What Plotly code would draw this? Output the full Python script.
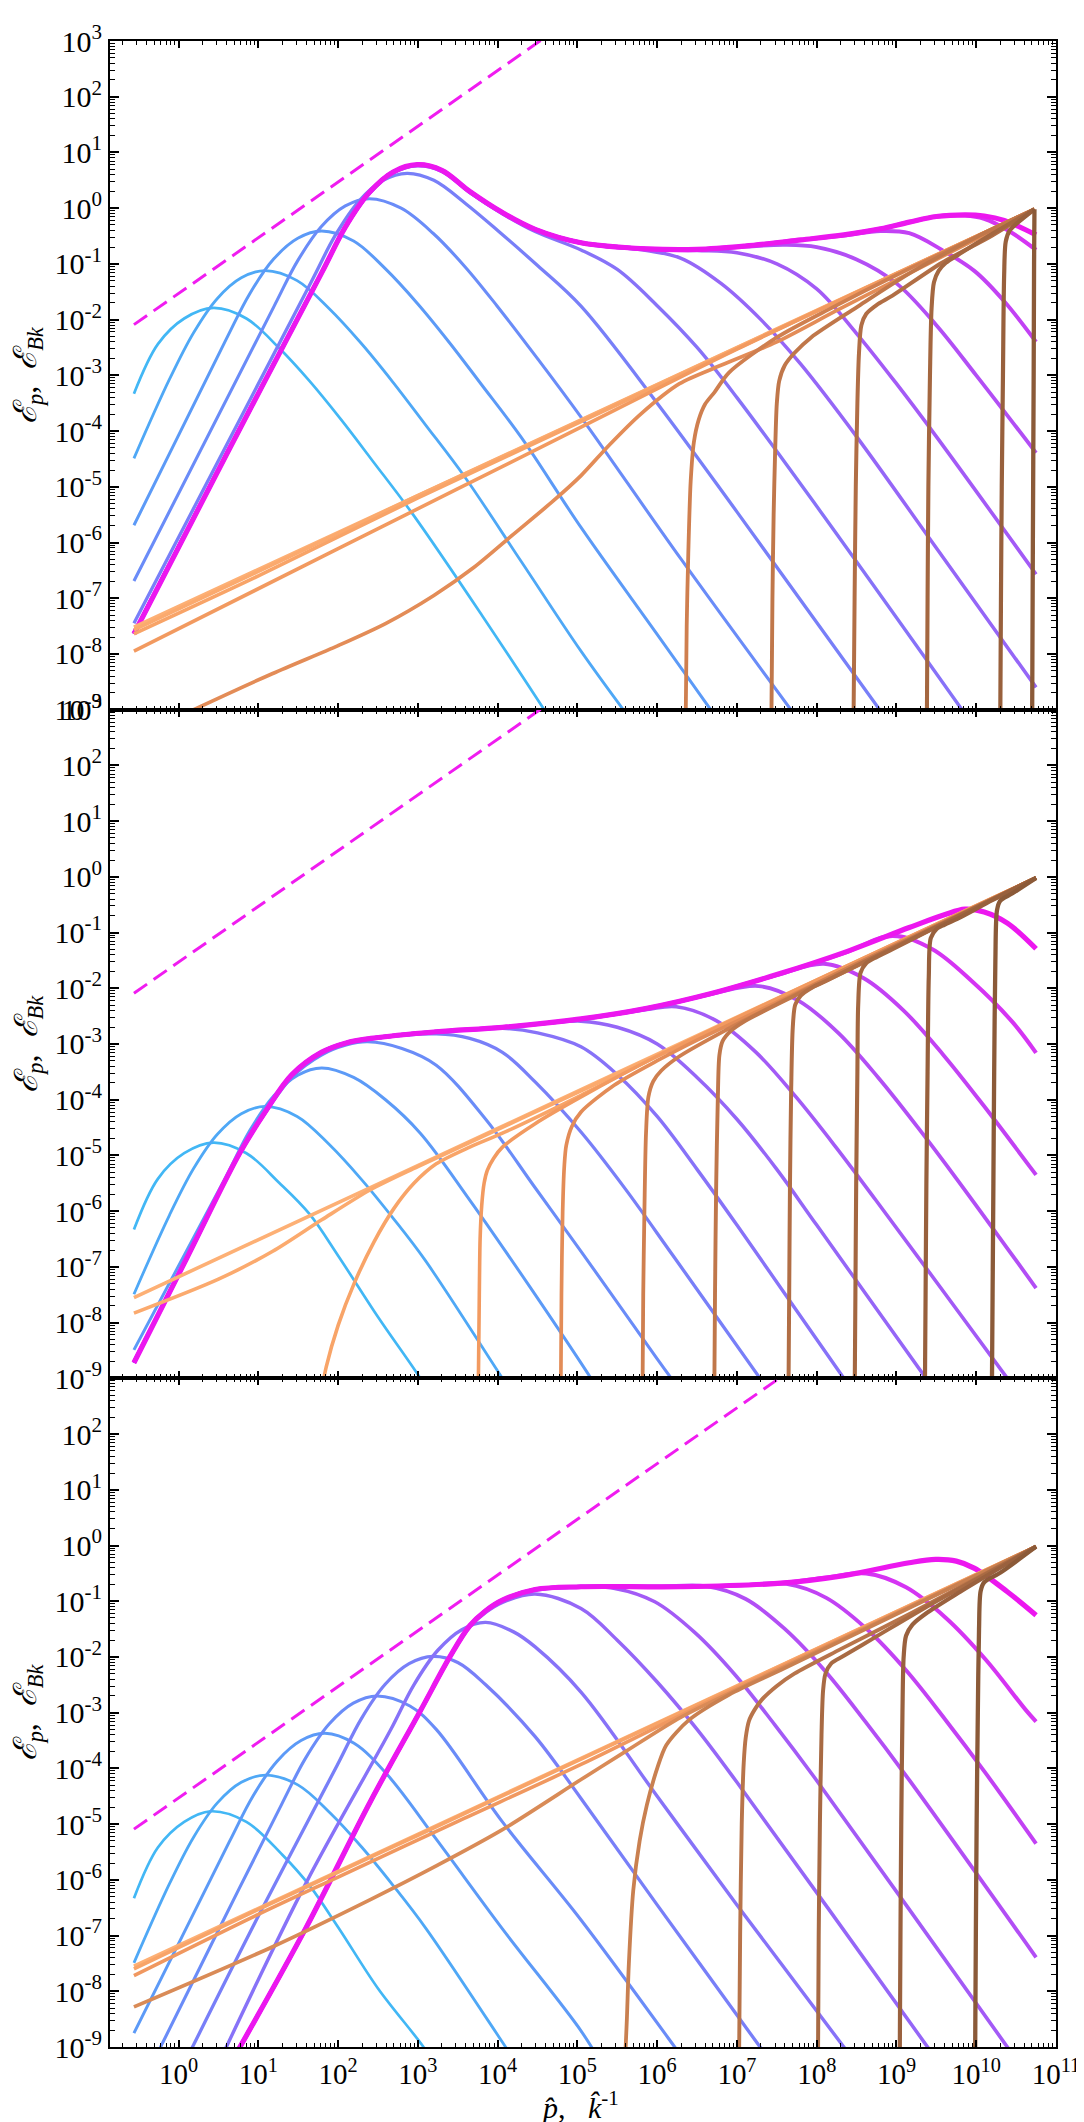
import numpy as np
import plotly.graph_objects as go
from plotly.subplots import make_subplots

# ------------------------------------------------------------------
# Data.
# Every curve is a list of (log10 x, log10 y) pairs,
# x = p-hat (or k-hat^-1), y = E_p (or E_Bk).
# ------------------------------------------------------------------

# ---------------- top panel ----------------
top_dash = [(-0.56, -2.09), (4.6, 3.07)]

top_P1 = [(-0.56, -3.33), (-0.26, -2.44), (0.07, -1.98), (0.436, -1.79), (0.85, -1.98), (1.26, -2.51),
          (1.64, -3.1), (2.04, -3.8), (2.44, -4.55), (2.94, -5.5), (3.8, -7.3), (4.72, -9.3)]
top_P2 = [(-0.56, -4.49), (-0.114, -3.07), (0.186, -2.24), (0.486, -1.62), (0.786, -1.25), (1.086, -1.12),
          (1.486, -1.30), (1.886, -1.80), (2.286, -2.42), (2.686, -3.12), (3.086, -3.87), (3.586, -4.82),
          (4.3, -6.35), (5.045, -7.95), (5.73, -9.3)]
top_P3 = [(-0.56, -5.69), (0.594, -2.36), (0.894, -1.53), (1.194, -0.91), (1.494, -0.54), (1.794, -0.41),
          (2.194, -0.59), (2.594, -1.09), (2.994, -1.71), (3.394, -2.41), (3.794, -3.16), (4.294, -4.11),
          (5.045, -5.73), (6.0, -7.65), (6.82, -9.3)]
top_P4 = [(-0.56, -6.69), (1.19, -1.78), (1.49, -0.95), (1.79, -0.33), (2.09, 0.04), (2.39, 0.17),
          (2.79, 0.0), (3.19, -0.45), (3.59, -1.05), (3.99, -1.75), (4.5, -2.7), (5.045, -3.75),
          (6.3, -6.3), (7.83, -9.3)]
top_P5 = [(-0.56, -7.45), (1.664, -1.32), (1.964, -0.49), (2.264, 0.13), (2.564, 0.5), (2.864, 0.626),
          (3.2, 0.5), (3.6, 0.08), (4.0, -0.4), (4.5, -1.03), (5.045, -1.76), (6.0, -3.5), (7.0, -5.45),
          (8.94, -9.3)]
top_P6 = [(-0.56, -7.62), (0.6, -4.41), (1.79, -1.17), (2.09, -0.35), (2.39, 0.26), (2.69, 0.63),
          (2.99, 0.76), (3.3, 0.66), (3.65, 0.28), (4.06, -0.1), (4.47, -0.42), (5.045, -0.75), (5.5, -1.1),
          (6.0, -1.75), (6.5, -2.5), (7.0, -3.4), (8.0, -5.35), (9.97, -9.3)]
top_P7 = [(-0.56, -7.63), (0.6, -4.42), (1.79, -1.17), (2.09, -0.34), (2.39, 0.27), (2.69, 0.64),
          (2.99, 0.77), (3.3, 0.67), (3.65, 0.29), (4.06, -0.09), (4.47, -0.39), (5.045, -0.63),
          (5.87, -0.76), (6.3, -0.9), (6.8, -1.35), (7.3, -2.0), (7.8, -2.8), (8.5, -4.1), (9.5, -6.1),
          (10.75, -8.6)]
top_P8 = [(-0.56, -7.63), (0.6, -4.42), (1.79, -1.17), (2.09, -0.34), (2.39, 0.28), (2.69, 0.65),
          (2.99, 0.78), (3.3, 0.68), (3.65, 0.3), (4.06, -0.08), (4.47, -0.38), (5.045, -0.62),
          (5.87, -0.74), (6.5, -0.76), (7.0, -0.8), (7.5, -1.0), (8.0, -1.45), (8.5, -2.25), (9.0, -3.15),
          (9.5, -4.1), (10.75, -6.57)]
top_P9 = [(-0.56, -7.63), (0.6, -4.42), (1.79, -1.17), (2.09, -0.34), (2.39, 0.28), (2.69, 0.65),
          (2.99, 0.78), (3.3, 0.68), (3.65, 0.3), (4.06, -0.08), (4.47, -0.38), (5.045, -0.62),
          (5.87, -0.73), (6.5, -0.74), (7.1, -0.69), (7.6, -0.66), (8.0, -0.7), (8.5, -0.92), (9.0, -1.35),
          (9.5, -2.1), (10.0, -3.0), (10.75, -4.39)]
top_P10 = [(-0.56, -7.64), (0.6, -4.42), (1.79, -1.17), (2.09, -0.34), (2.39, 0.28), (2.69, 0.65),
           (2.99, 0.78), (3.3, 0.68), (3.65, 0.3), (4.06, -0.08), (4.47, -0.38), (5.045, -0.62),
           (5.87, -0.73), (6.5, -0.74), (7.1, -0.68), (7.8, -0.57), (8.34, -0.49), (8.8, -0.41),
           (9.16, -0.45), (9.57, -0.75), (9.98, -1.13), (10.35, -1.67), (10.75, -2.40)]
top_P11 = [(-0.56, -7.64), (0.6, -4.42), (1.79, -1.17), (2.09, -0.34), (2.39, 0.28), (2.69, 0.65),
           (2.99, 0.78), (3.3, 0.68), (3.65, 0.3), (4.06, -0.08), (4.47, -0.38), (5.045, -0.62),
           (5.87, -0.73), (6.5, -0.74), (7.1, -0.68), (7.8, -0.57), (8.34, -0.48), (8.8, -0.37),
           (9.16, -0.25), (9.5, -0.15), (9.86, -0.13), (10.1, -0.19), (10.4, -0.4), (10.75, -0.75)]
top_P12 = [(-0.56, -7.64), (0.6, -4.42), (1.79, -1.17), (2.09, -0.34), (2.39, 0.28), (2.69, 0.65),
           (2.99, 0.78), (3.3, 0.68), (3.65, 0.3), (4.06, -0.08), (4.47, -0.38), (5.045, -0.62),
           (5.87, -0.73), (6.5, -0.74), (7.1, -0.68), (7.8, -0.57), (8.34, -0.48), (8.8, -0.37),
           (9.16, -0.25), (9.5, -0.15), (9.86, -0.12), (10.1, -0.14), (10.35, -0.22), (10.75, -0.48)]

top_B1 = [(-0.56, -7.52), (5.045, -3.8), (10.73, -0.02)]
top_B2 = [(-0.56, -7.57), (1.0, -6.52), (3.0, -5.16), (5.045, -3.81), (10.73, -0.02)]
top_B3 = [(-0.56, -7.64), (1.0, -6.6), (3.0, -5.2), (5.045, -3.83), (10.73, -0.02)]
top_B4 = [(-0.56, -7.95), (2.0, -6.11), (5.045, -3.93), (7.0, -2.53), (10.73, -0.02)]
top_B5 = [(-0.1, -9.2), (0.19, -9.0), (1.18, -8.35), (2.0, -7.85), (2.6, -7.45), (3.2, -6.95), (3.7, -6.45),
          (4.2, -5.85), (4.7, -5.25), (5.045, -4.8), (5.4, -4.25), (5.79, -3.7), (6.28, -3.15),
          (6.8, -2.82), (7.5, -2.4), (8.3, -1.8), (10.73, -0.02)]
top_B6 = [(6.355, -9.5), (6.37, -7.5), (6.39, -6.2), (6.42, -4.9), (6.46, -4.2), (6.52, -3.8), (6.6, -3.52),
          (6.72, -3.3), (6.9, -2.95), (7.5, -2.32), (8.2, -1.78), (9.0, -1.2), (10.73, -0.02)]
top_B7 = [(7.43, -9.5), (7.445, -7.0), (7.46, -5.5), (7.48, -4.3), (7.5, -3.5), (7.53, -3.1), (7.6, -2.82),
          (7.72, -2.6), (7.93, -2.32), (8.5, -1.78), (9.2, -1.14), (10.0, -0.52), (10.73, -0.02)]
top_B8 = [(8.46, -9.5), (8.475, -7.0), (8.49, -5.0), (8.51, -3.5), (8.53, -2.6), (8.56, -2.1), (8.62, -1.9),
          (8.75, -1.74), (8.95, -1.57), (9.57, -0.98), (10.19, -0.5), (10.73, -0.02)]
top_B9 = [(9.38, -9.5), (9.39, -7.0), (9.4, -5.0), (9.42, -3.0), (9.44, -1.8), (9.47, -1.33), (9.53, -1.12),
          (9.62, -0.98), (9.78, -0.83), (10.2, -0.46), (10.73, -0.02)]
top_B10 = [(10.3, -9.5), (10.31, -7.0), (10.32, -5.0), (10.335, -3.0), (10.35, -1.2), (10.37, -0.6),
           (10.42, -0.4), (10.52, -0.26), (10.73, -0.02)]
top_B11 = [(10.7, -9.5), (10.71, -6.0), (10.72, -3.0), (10.725, -1.0), (10.73, -0.02)]

# ---------------- middle panel ----------------
mid_dash = [(-0.56, -2.09), (4.6, 3.07)]

mid_P1 = [(-0.56, -6.33), (-0.26, -5.42), (0.07, -4.96), (0.436, -4.77), (0.85, -4.96), (1.26, -5.49),
          (1.64, -6.05), (2.0, -6.8), (2.5, -7.9), (3.03, -9.0), (3.15, -9.3)]
mid_P2 = [(-0.56, -7.49), (-0.114, -6.07), (0.186, -5.24), (0.486, -4.62), (0.786, -4.25), (1.086, -4.12),
          (1.486, -4.30), (1.886, -4.80), (2.286, -5.42), (2.686, -6.12), (3.086, -6.87), (4.06, -9.0),
          (4.2, -9.3)]
mid_P3 = [(-0.56, -8.49), (0.594, -5.38), (0.894, -4.55), (1.194, -3.93), (1.494, -3.56), (1.794, -3.43),
          (2.194, -3.6), (2.594, -4.0), (3.03, -4.6), (3.65, -5.8), (4.4, -7.35), (5.17, -9.0), (5.3, -9.3)]
mid_P4 = [(-0.56, -8.7), (0.1, -6.84), (0.765, -4.97), (1.095, -4.22), (1.42, -3.6), (1.79, -3.2),
          (2.1, -3.02), (2.37, -2.96), (2.8, -3.08), (3.23, -3.38), (3.85, -4.35), (4.47, -5.58),
          (5.045, -6.72), (6.0, -8.65), (6.33, -9.3)]
mid_P5 = [(-0.56, -8.71), (0.1, -6.85), (0.765, -4.96), (1.095, -4.21), (1.42, -3.56), (1.79, -3.16),
          (2.1, -2.99), (2.41, -2.91), (3.23, -2.82), (3.65, -2.9), (4.06, -3.15), (4.47, -3.68),
          (5.045, -4.58), (5.6, -5.6), (6.2, -6.8), (7.29, -9.0), (7.44, -9.3)]
mid_P6 = [(-0.56, -8.71), (0.1, -6.85), (0.765, -4.96), (1.095, -4.2), (1.42, -3.55), (1.79, -3.15),
          (2.1, -2.98), (2.41, -2.9), (3.23, -2.79), (4.06, -2.72), (4.5, -2.8), (5.045, -3.05), (5.5, -3.55),
          (6.0, -4.3), (6.5, -5.25), (7.0, -6.25), (8.34, -9.0), (8.49, -9.3)]
mid_P7 = [(-0.56, -8.72), (0.1, -6.85), (0.765, -4.96), (1.095, -4.2), (1.42, -3.55), (1.79, -3.15),
          (2.1, -2.98), (2.41, -2.9), (3.23, -2.78), (4.06, -2.71), (5.045, -2.59), (5.5, -2.7), (6.0, -3.0),
          (6.5, -3.6), (7.0, -4.35), (7.5, -5.25), (8.0, -6.25), (9.37, -9.0), (9.52, -9.3)]
mid_P8 = [(-0.56, -8.72), (0.1, -6.85), (0.765, -4.96), (1.095, -4.2), (1.42, -3.55), (1.79, -3.15),
          (2.1, -2.98), (2.41, -2.9), (3.23, -2.78), (4.06, -2.70), (5.045, -2.56), (5.87, -2.38),
          (6.24, -2.33), (6.74, -2.58), (7.24, -3.15), (7.74, -3.95), (8.24, -4.85), (8.74, -5.8),
          (10.39, -9.0), (10.54, -9.3)]
mid_P9 = [(-0.56, -8.72), (0.1, -6.85), (0.765, -4.96), (1.095, -4.2), (1.42, -3.55), (1.79, -3.15),
          (2.1, -2.98), (2.41, -2.9), (3.23, -2.78), (4.06, -2.70), (5.045, -2.55), (5.87, -2.37),
          (6.69, -2.1), (7.27, -1.96), (7.77, -2.22), (8.27, -2.8), (8.77, -3.6), (9.27, -4.5),
          (9.77, -5.45), (10.75, -7.38)]
mid_P10 = [(-0.56, -8.72), (0.1, -6.85), (0.765, -4.96), (1.095, -4.2), (1.42, -3.55), (1.79, -3.15),
           (2.1, -2.98), (2.41, -2.9), (3.23, -2.78), (4.06, -2.70), (5.045, -2.55), (5.87, -2.36),
           (6.69, -2.09), (7.51, -1.76), (8.09, -1.56), (8.59, -1.82), (9.09, -2.4), (9.59, -3.2),
           (10.09, -4.1), (10.75, -5.35)]
mid_P11 = [(-0.56, -8.72), (0.1, -6.85), (0.765, -4.96), (1.095, -4.2), (1.42, -3.55), (1.79, -3.15),
           (2.1, -2.98), (2.41, -2.9), (3.23, -2.78), (4.06, -2.70), (5.045, -2.55), (5.87, -2.36),
           (6.69, -2.09), (7.51, -1.75), (8.34, -1.37), (8.95, -1.06), (9.45, -1.3), (9.95, -1.88),
           (10.45, -2.6), (10.75, -3.16)]
mid_P12 = [(-0.56, -8.72), (0.1, -6.85), (0.765, -4.96), (1.095, -4.2), (1.42, -3.55), (1.79, -3.15),
           (2.1, -2.98), (2.41, -2.9), (3.23, -2.78), (4.06, -2.70), (5.045, -2.55), (5.87, -2.36),
           (6.69, -2.09), (7.51, -1.75), (8.34, -1.36), (9.16, -0.91), (9.6, -0.68), (9.86, -0.58),
           (10.1, -0.63), (10.39, -0.83), (10.75, -1.29)]

mid_B1 = [(-0.56, -7.55), (5.045, -3.82), (10.75, -0.02)]
mid_B2 = [(-0.56, -7.83), (0.5, -7.22), (1.18, -6.72), (1.8, -6.15), (2.4, -5.62), (3.0, -5.2), (5.045, -3.84),
          (10.75, -0.02)]
mid_B3 = [(1.77, -9.4), (1.85, -8.8), (2.0, -8.05), (2.2, -7.3), (2.45, -6.55), (2.7, -5.95), (2.95, -5.5),
          (3.23, -5.15), (3.65, -4.85), (4.06, -4.6), (5.045, -3.92), (6.0, -3.22), (7.0, -2.55),
          (10.75, -0.02)]
mid_B4 = [(3.755, -9.5), (3.77, -7.5), (3.78, -6.5), (3.8, -5.9), (3.83, -5.5), (3.87, -5.27), (3.95, -5.05),
          (4.06, -4.85), (4.47, -4.43), (5.045, -3.95), (6.0, -3.22), (10.75, -0.02)]
mid_B5 = [(4.79, -9.5), (4.8, -7.5), (4.815, -6.0), (4.835, -5.2), (4.86, -4.82), (4.93, -4.48),
          (5.045, -4.22), (5.46, -3.74), (6.0, -3.3), (6.5, -2.93), (7.5, -2.25), (10.75, -0.02)]
mid_B6 = [(5.815, -9.5), (5.825, -7.5), (5.84, -6.0), (5.86, -4.6), (5.89, -3.95), (5.95, -3.67),
          (6.05, -3.48), (6.28, -3.22), (6.9, -2.72), (7.5, -2.28), (8.5, -1.56), (10.75, -0.02)]
mid_B7 = [(6.715, -9.5), (6.725, -7.5), (6.74, -5.5), (6.76, -4.0), (6.78, -3.2), (6.82, -2.95),
          (6.92, -2.77), (7.1, -2.59), (7.7, -2.15), (8.5, -1.6), (10.75, -0.02)]
mid_B8 = [(7.645, -9.5), (7.655, -7.5), (7.665, -5.5), (7.68, -3.8), (7.7, -2.7), (7.73, -2.3), (7.8, -2.13),
          (7.95, -1.98), (8.13, -1.86), (8.8, -1.38), (10.75, -0.02)]
mid_B9 = [(8.475, -9.5), (8.485, -7.5), (8.495, -5.5), (8.51, -3.5), (8.52, -2.3), (8.55, -1.72),
          (8.62, -1.55), (8.75, -1.44), (8.95, -1.3), (9.5, -0.9), (10.75, -0.02)]
mid_B10 = [(9.355, -9.5), (9.365, -7.5), (9.375, -5.5), (9.39, -3.5), (9.405, -1.8), (9.43, -1.1),
           (9.5, -0.94), (9.6, -0.86), (9.78, -0.74), (10.2, -0.42), (10.75, -0.02)]
mid_B11 = [(10.195, -9.5), (10.205, -7.5), (10.215, -5.5), (10.225, -3.5), (10.24, -1.5), (10.26, -0.6),
           (10.3, -0.43), (10.45, -0.3), (10.75, -0.02)]

# ---------------- bottom panel ----------------
bot_dash = [(-0.56, -5.09), (7.6, 3.07)]

bot_P1 = [(-0.56, -6.33), (-0.26, -5.42), (0.07, -4.96), (0.4, -4.77), (0.85, -4.96), (1.3, -5.55),
          (1.64, -6.1), (2.0, -6.85), (2.5, -7.95), (3.07, -9.0), (3.2, -9.3)]
bot_P2 = [(-0.56, -7.49), (-0.114, -6.07), (0.186, -5.24), (0.486, -4.62), (0.786, -4.25), (1.095, -4.12),
          (1.5, -4.30), (1.9, -4.8), (2.3, -5.42), (2.7, -6.12), (3.1, -6.87), (4.1, -9.0), (4.24, -9.3)]
bot_P3 = [(-0.56, -8.75), (0.635, -5.32), (0.935, -4.49), (1.235, -3.87), (1.535, -3.5), (1.835, -3.37),
          (2.2, -3.55), (2.62, -4.12), (3.23, -5.27), (4.06, -6.88), (5.045, -8.71), (5.3, -9.3)]
bot_P4 = [(-0.33, -9.3), (0.5, -6.9), (1.29, -4.65), (1.59, -3.82), (1.89, -3.2), (2.19, -2.83),
          (2.49, -2.70), (2.9, -2.88), (3.23, -3.3), (4.06, -4.96), (5.045, -6.72), (6.22, -9.0),
          (6.37, -9.3)]
bot_P5 = [(0.07, -9.3), (1.0, -6.65), (1.99, -3.94), (2.29, -3.11), (2.59, -2.49), (2.89, -2.12),
          (3.19, -1.99), (3.5, -2.1), (3.85, -2.5), (4.47, -3.43), (5.045, -4.54), (6.0, -6.45),
          (7.29, -9.0), (7.44, -9.3)]
bot_P6 = [(0.5, -9.3), (1.6, -6.05), (2.65, -3.33), (2.95, -2.5), (3.25, -1.88), (3.55, -1.51),
          (3.85, -1.38), (4.2, -1.55), (4.47, -1.82), (5.045, -2.63), (6.0, -4.5), (7.0, -6.45),
          (8.34, -9.0), (8.49, -9.3)]
bot_P7 = [(0.69, -9.21), (1.59, -6.89), (2.41, -4.59), (3.03, -2.98), (3.4, -2.01), (3.65, -1.46),
          (3.85, -1.2), (4.06, -1.02), (4.47, -0.87), (5.045, -1.13), (5.5, -1.7), (6.0, -2.45),
          (6.5, -3.3), (7.0, -4.25), (9.39, -9.0), (9.54, -9.3)]
bot_P8 = [(0.69, -9.2), (1.59, -6.88), (2.41, -4.58), (3.03, -2.97), (3.4, -2.0), (3.65, -1.44),
          (3.85, -1.17), (4.06, -0.99), (4.47, -0.8), (5.045, -0.75), (5.47, -0.77), (5.97, -1.01),
          (6.47, -1.56), (6.97, -2.31), (7.47, -3.21), (7.97, -4.16), (10.39, -9.0), (10.54, -9.3)]
bot_P9 = [(0.69, -9.2), (1.59, -6.88), (2.41, -4.58), (3.03, -2.97), (3.4, -2.0), (3.65, -1.44),
          (3.85, -1.17), (4.06, -0.98), (4.47, -0.79), (5.045, -0.74), (6.0, -0.74), (6.61, -0.73),
          (7.11, -0.96), (7.61, -1.51), (8.11, -2.26), (8.61, -3.16), (9.11, -4.11), (10.75, -7.39)]
bot_P10 = [(0.69, -9.2), (1.59, -6.88), (2.41, -4.58), (3.03, -2.97), (3.4, -2.0), (3.65, -1.44),
           (3.85, -1.17), (4.06, -0.98), (4.47, -0.79), (5.045, -0.74), (6.28, -0.74), (7.0, -0.72),
           (7.62, -0.69), (8.12, -0.94), (8.62, -1.49), (9.12, -2.24), (9.62, -3.14), (10.12, -4.09),
           (10.75, -5.35)]
bot_P11 = [(0.69, -9.2), (1.59, -6.88), (2.41, -4.58), (3.03, -2.97), (3.4, -2.0), (3.65, -1.44),
           (3.85, -1.17), (4.06, -0.98), (4.47, -0.79), (5.045, -0.74), (6.28, -0.74), (7.51, -0.68),
           (8.1, -0.58), (8.62, -0.5), (9.12, -0.75), (9.62, -1.3), (10.12, -2.05), (10.62, -2.95),
           (10.75, -3.16)]
bot_P12 = [(0.69, -9.2), (1.59, -6.88), (2.41, -4.58), (3.03, -2.97), (3.4, -2.0), (3.65, -1.44),
           (3.85, -1.17), (4.06, -0.98), (4.47, -0.79), (5.045, -0.74), (6.28, -0.74), (7.51, -0.68),
           (8.34, -0.54), (9.16, -0.31), (9.49, -0.25), (9.75, -0.28), (9.98, -0.41), (10.39, -0.83),
           (10.75, -1.25)]

bot_B1 = [(-0.56, -7.55), (5.045, -3.82), (10.75, -0.02)]
bot_B2 = [(-0.56, -7.6), (1.0, -6.53), (3.0, -5.2), (10.75, -0.02)]
bot_B3 = [(-0.56, -7.72), (1.0, -6.62), (2.0, -5.95), (3.5, -4.95), (5.045, -3.93), (7.0, -2.55),
          (10.75, -0.02)]
bot_B4 = [(-0.56, -8.28), (1.18, -7.2), (2.41, -6.35), (3.23, -5.75), (4.06, -5.1), (5.045, -4.2),
          (5.6, -3.7), (6.3, -3.08), (7.2, -2.45), (10.75, -0.02)]
bot_B5 = [(5.59, -9.5), (5.62, -8.5), (5.645, -7.5), (5.7, -6.19), (5.78, -5.3), (5.87, -4.66), (6.0, -4.0),
          (6.115, -3.58), (6.4, -3.13), (6.9, -2.68), (7.6, -2.2), (10.75, -0.02)]
bot_B6 = [(7.025, -9.5), (7.04, -7.0), (7.06, -5.0), (7.085, -3.9), (7.11, -3.45), (7.15, -3.15),
          (7.22, -2.95), (7.31, -2.77), (7.5, -2.52), (7.72, -2.3), (8.3, -1.86), (9.2, -1.2), (10.75, -0.02)]
bot_B7 = [(8.015, -9.5), (8.025, -7.0), (8.04, -5.0), (8.06, -3.4), (8.08, -2.6), (8.11, -2.3),
          (8.18, -2.12), (8.34, -1.98), (8.74, -1.64), (9.5, -1.0), (10.75, -0.02)]
bot_B8 = [(9.04, -9.5), (9.05, -7.0), (9.06, -5.0), (9.075, -3.0), (9.09, -2.0), (9.12, -1.62), (9.2, -1.42),
          (9.37, -1.22), (9.8, -0.83), (10.3, -0.4), (10.75, -0.02)]
bot_B9 = [(9.985, -9.5), (9.995, -7.0), (10.005, -5.0), (10.02, -3.0), (10.035, -1.5), (10.055, -0.82),
          (10.1, -0.66), (10.31, -0.48), (10.75, -0.02)]

# ---------------- axis ticks ----------------
x_tick_exp = list(range(0, 12))
y_tick_exp_full = list(range(-9, 4))
y_tick_exp_bottom = list(range(-9, 3))

# ---------------- styles ----------------
part_colors = ["#42b7f5", "#4fa8f6", "#5c9af7", "#6a8cf8", "#787ff8", "#8772f8",
               "#9566f7", "#a35af6", "#b24ef5", "#c241f4", "#d534f3", "#ec17ef"]
part_widths = [2.7, 2.8, 3.0, 3.1, 3.3, 3.4, 3.5, 3.6, 3.8, 3.9, 4.1, 5.2]
mag_colors_11 = ["#fdb075", "#fbaa6e", "#f8a468", "#f29a60", "#e38c57", "#cf7f4f",
                 "#c0774a", "#b16e45", "#a46740", "#98603c", "#8b5a38"]
mag_widths_11 = [3.6, 3.6, 3.6, 3.6, 3.7, 3.8, 3.9, 4.0, 4.1, 4.2, 4.3]
mag_colors_9 = ["#fdb075", "#f8a468", "#f09860", "#d98b57", "#c98050", "#b8744a",
                "#a86a43", "#9a613e", "#8b5a38"]
mag_widths_9 = [3.6, 3.6, 3.6, 3.7, 3.8, 3.9, 4.0, 4.2, 4.3]
dash_color = "#f01cf0"
FONT = "Liberation Serif"

panels = [
    dict(part=[top_P1, top_P2, top_P3, top_P4, top_P5, top_P6, top_P7, top_P8, top_P9, top_P10, top_P11, top_P12],
         mag=[top_B1, top_B2, top_B3, top_B4, top_B5, top_B6, top_B7, top_B8, top_B9, top_B10, top_B11],
         mcol=mag_colors_11, mw=mag_widths_11, dash=top_dash, yt=y_tick_exp_full),
    dict(part=[mid_P1, mid_P2, mid_P3, mid_P4, mid_P5, mid_P6, mid_P7, mid_P8, mid_P9, mid_P10, mid_P11, mid_P12],
         mag=[mid_B1, mid_B2, mid_B3, mid_B4, mid_B5, mid_B6, mid_B7, mid_B8, mid_B9, mid_B10, mid_B11],
         mcol=mag_colors_11, mw=mag_widths_11, dash=mid_dash, yt=y_tick_exp_full),
    dict(part=[bot_P1, bot_P2, bot_P3, bot_P4, bot_P5, bot_P6, bot_P7, bot_P8, bot_P9, bot_P10, bot_P11, bot_P12],
         mag=[bot_B1, bot_B2, bot_B3, bot_B4, bot_B5, bot_B6, bot_B7, bot_B8, bot_B9],
         mcol=mag_colors_9, mw=mag_widths_9, dash=bot_dash, yt=y_tick_exp_bottom),
]


def xy(pts):
    a = np.array(pts, dtype=float)
    return 10.0 ** a[:, 0], 10.0 ** a[:, 1]


fig = make_subplots(rows=3, cols=1, shared_xaxes=True, vertical_spacing=0)

for r, pan in enumerate(panels, start=1):
    for i, pts in enumerate(pan["part"]):
        x, y = xy(pts)
        fig.add_trace(go.Scatter(x=x, y=y, mode="lines", hoverinfo="skip", showlegend=False,
                                 line=dict(color=part_colors[i], width=part_widths[i],
                                           shape="spline", smoothing=1.0)), row=r, col=1)
    for i, pts in enumerate(pan["mag"]):
        x, y = xy(pts)
        fig.add_trace(go.Scatter(x=x, y=y, mode="lines", hoverinfo="skip", showlegend=False,
                                 line=dict(color=pan["mcol"][i], width=pan["mw"][i],
                                           shape="spline", smoothing=0.8)), row=r, col=1)
    x, y = xy(pan["dash"])
    fig.add_trace(go.Scatter(x=x, y=y, mode="lines", hoverinfo="skip", showlegend=False,
                             line=dict(color=dash_color, width=3, dash="16px,8px")), row=r, col=1)

minor_x = [m * 10.0 ** e for e in range(-1, 11) for m in range(2, 10) if m * 10.0 ** e > 0.138]
minor_y = [m * 10.0 ** e for e in range(-9, 3) for m in range(2, 10)]

for r, pan in enumerate(panels, start=1):
    fig.update_yaxes(type="log", range=[-9, 3], tickmode="array",
                     tickvals=[10.0 ** e for e in pan["yt"]],
                     ticktext=[f"10<sup>{e}</sup>" for e in pan["yt"]],
                     ticks="inside", ticklen=9, tickwidth=1.5, tickcolor="black",
                     showline=True, linewidth=2, linecolor="black", mirror="ticks",
                     showgrid=False, zeroline=False, ticklabeloverflow="allow",
                     minor=dict(tickvals=minor_y, ticks="inside", ticklen=5, tickwidth=1.2,
                                tickcolor="black", showgrid=False),
                     tickfont=dict(family=FONT, size=30, color="black"), row=r, col=1)
    fig.update_xaxes(type="log", range=[np.log10(0.138), 11], tickmode="array",
                     tickvals=[10.0 ** e for e in x_tick_exp],
                     ticktext=[f"10<sup>{e}</sup>" for e in x_tick_exp],
                     ticks="inside", ticklen=7, tickwidth=1.5, tickcolor="black",
                     showline=True, linewidth=2, linecolor="black", mirror="ticks",
                     showgrid=False, zeroline=False, ticklabeloverflow="allow",
                     minor=dict(tickvals=minor_x, ticks="inside", ticklen=4, tickwidth=1.2,
                                tickcolor="black", showgrid=False),
                     tickfont=dict(family=FONT, size=29, color="black"), row=r, col=1)

ytitle = "<i>ℰ<sub>p</sub></i>,  <i>ℰ<sub>Bk</sub></i>"
annotations = []
for k in range(3):
    annotations.append(dict(text=ytitle, xref="paper", yref="paper", x=-0.087, y=1 - (k + 0.5) / 3,
                            xanchor="center", yanchor="middle", textangle=-90, showarrow=False,
                            font=dict(family=FONT, size=32, color="black")))
annotations.append(dict(text="<i>p\u0302</i>,   <i>k\u0302</i><sup>-1</sup>", xref="paper", yref="paper",
                        x=0.497, y=-0.029, xanchor="center", yanchor="middle", showarrow=False,
                        font=dict(family=FONT, size=30, color="black")))

fig.update_layout(width=1084, height=2122, margin=dict(l=102, r=22, t=14, b=83),
                  paper_bgcolor="white", plot_bgcolor="white", annotations=annotations,
                  font=dict(family=FONT, color="black"))

fig.write_html("out.html")
